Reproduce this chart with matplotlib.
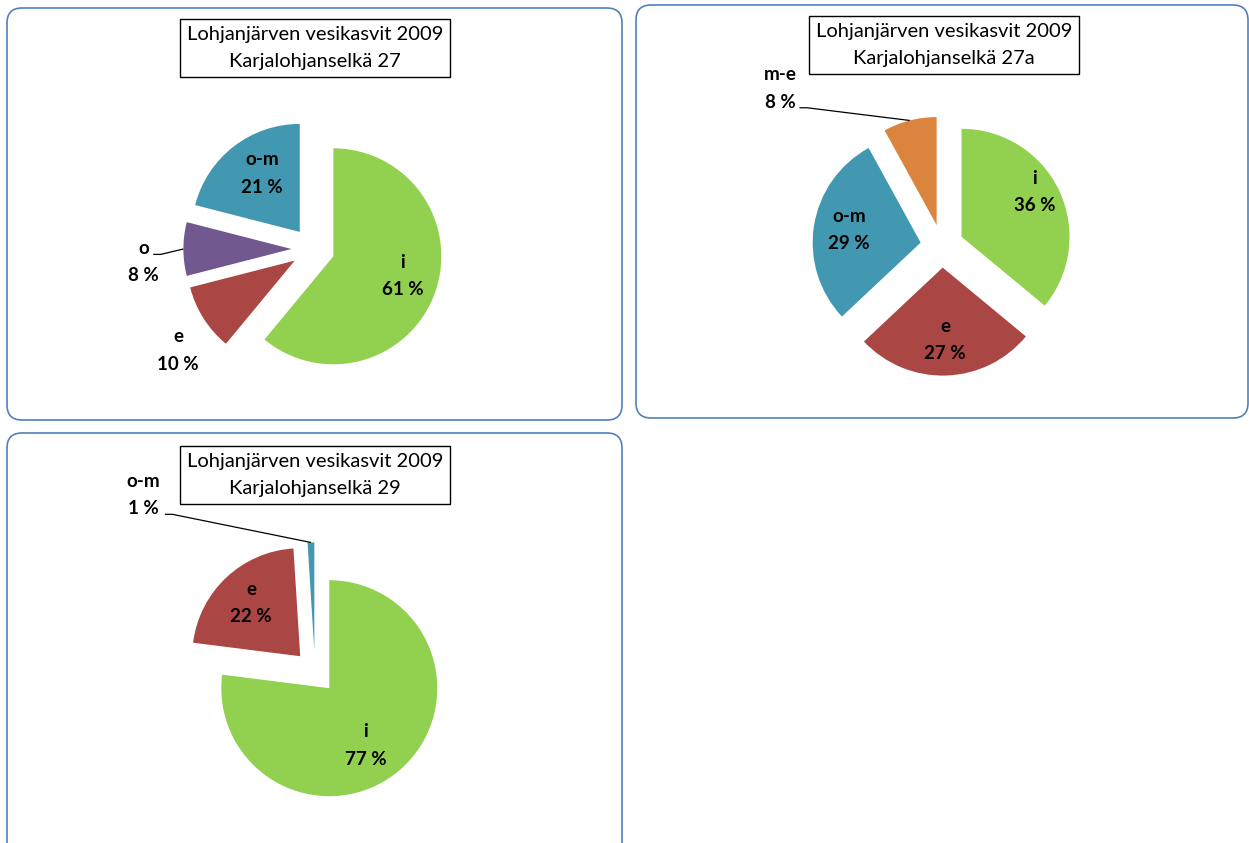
import numpy as np
import matplotlib.pyplot as plt
from matplotlib.patches import FancyBboxPatch

plt.rcParams['font.family'] = ['Lato', 'DejaVu Sans']

title_line1 = "Lohjanjärven vesikasvit 2009"
titles = ["Karjalohjanselkä 27", "Karjalohjanselkä 27a", "Karjalohjanselkä 29"]

labels_27 = ["i", "e", "o", "o-m"]
values_27 = [61, 10, 8, 21]
colors_27 = ["#92D050", "#AA4644", "#71588F", "#4298B0"]

labels_27a = ["i", "e", "o-m", "m-e"]
values_27a = [36, 27, 29, 8]
colors_27a = ["#92D050", "#AA4644", "#4298B0", "#DB843D"]

labels_29 = ["i", "e", "o-m"]
values_29 = [77, 22, 1]
colors_29 = ["#92D050", "#AA4644", "#4298B0"]

W, H = 1249, 843
R = 108  # pie radius in pixels
fig = plt.figure(figsize=(W / 100, H / 100), dpi=100)

# background axes in pixel units for the panel frames
bg = fig.add_axes([0, 0, 1, 1])
bg.set_xlim(0, W)
bg.set_ylim(H, 0)
bg.axis("off")
for (x0, y0, x1, y1) in [(7, 8, 622, 420), (636, 5, 1248, 418), (7, 433, 622, 860)]:
    bg.add_patch(FancyBboxPatch((x0 + 15, y0 + 15), x1 - x0 - 30, y1 - y0 - 30,
                                boxstyle="round,pad=15", fc="white", ec="#4F81BD", lw=1.2))

# per chart layout: centre (px), title centre (px), label positions (pie units),
# leader line start offset from label centre (None = label inside, no leader)
charts = [
    dict(labels=labels_27, values=values_27, colors=colors_27, title=titles[0],
         center=(313, 249), tcenter=(315, 48),
         lpos=[(0.83, -0.25), (-1.25, -0.94), (-1.57, -0.12), (-0.47, 0.70)],
         leader=[None, None, (0.09, 0.07), None]),
    dict(labels=labels_27a, values=values_27a, colors=colors_27a, title=titles[1],
         center=(942, 246), tcenter=(944, 45),
         lpos=[(0.86, 0.50), (0.03, -0.87), (-0.86, 0.15), (-1.50, 1.46)],
         leader=[None, None, None, (0.18, -0.18)]),
    dict(labels=labels_29, values=values_29, colors=colors_29, title=titles[2],
         center=(315, 672), tcenter=(315, 475),
         lpos=[(0.47, -0.68), (-0.59, 0.64), (-1.59, 1.64)],
         leader=[None, None, (0.20, -0.18)]),
]

L = 1.9
for c in charts:
    cx, cy = c["center"]
    size = 2 * L * R
    ax = fig.add_axes([(cx - L * R) / W, (H - cy - L * R) / H, size / W, size / H])
    wedges, _ = ax.pie(c["values"], colors=c["colors"], startangle=90, counterclock=False,
                       explode=[0.2] * len(c["values"]), radius=1)
    ax.set_xlim(-L, L)
    ax.set_ylim(-L, L)
    ax.set_aspect("equal")
    ax.axis("off")
    for w, lab, v, (lx, ly), lead in zip(wedges, c["labels"], c["values"], c["lpos"], c["leader"]):
        ax.text(lx, ly, f"{lab}\n{v} %", ha="center", va="center", fontsize=13.5,
                fontweight="bold", linespacing=1.75, color="black")
        if lead is not None:
            mid = np.deg2rad((w.theta1 + w.theta2) / 2)
            px, py = 1.2 * np.cos(mid), 1.2 * np.sin(mid)
            sx, sy = lx + lead[0], ly + lead[1]
            ax.plot([sx, sx + 0.07, px], [sy, sy, py], color="black", lw=0.9,
                    solid_capstyle="butt")
    tx, ty = c["tcenter"]
    fig.text(tx / W, 1 - ty / H, f"{title_line1}\n{c['title']}", ha="center", va="center",
             fontsize=14.5, linespacing=1.75,
             bbox=dict(boxstyle="square,pad=0.35", fc="white", ec="black", lw=1.0))

fig.savefig("out.png", dpi=100)
